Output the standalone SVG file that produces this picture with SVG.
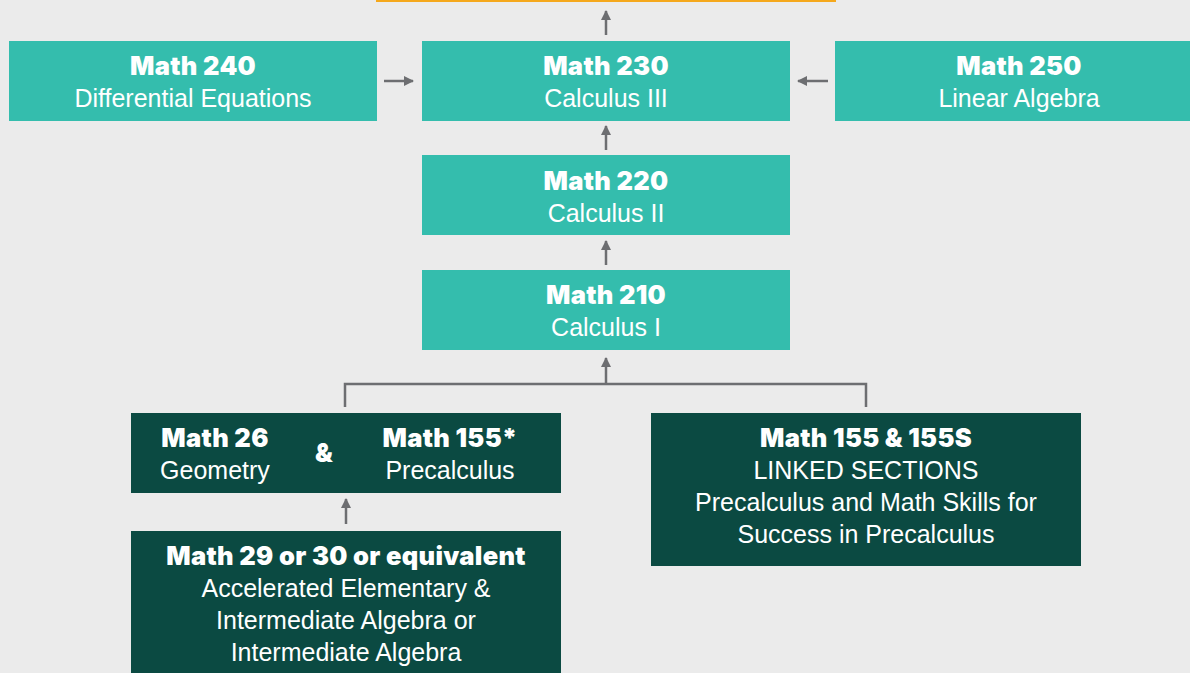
<svg xmlns="http://www.w3.org/2000/svg" width="1190" height="673" viewBox="0 0 1190 673">
<style>
.bg{fill:#EBEBEB}
.teal{fill:#34BDAD}
.dark{fill:#0B4A42}
.t{font-family:"Liberation Sans",Arial,sans-serif;fill:#FFFFFF;text-anchor:middle}
.b{font-size:25.5px;font-weight:900;font-family:Inter,"Liberation Sans",sans-serif;letter-spacing:0.3px}
.r{font-size:25px}
.ln{stroke:#6D6E71;stroke-width:2.5;fill:none}
</style>
<defs>
<marker id="ah" viewBox="0 0 10 10" refX="9" refY="5" markerWidth="4" markerHeight="4" orient="auto" markerUnits="strokeWidth">
<path d="M0,0 L10,5 L0,10 Z" fill="#6D6E71"/>
</marker>
</defs>
<rect class="bg" x="0" y="0" width="1190" height="673"/>
<rect x="376" y="0" width="460" height="2" fill="#F5A81C"/>
<g id="connectors">
<path class="ln" d="M606,35 V11" marker-end="url(#ah)"/>
<path class="ln" d="M384,81 H413" marker-end="url(#ah)"/>
<path class="ln" d="M828,81 H798" marker-end="url(#ah)"/>
<path class="ln" d="M606,150 V126" marker-end="url(#ah)"/>
<path class="ln" d="M606,265 V241" marker-end="url(#ah)"/>
<path class="ln" d="M345,407 V384 H866 V407"/>
<path class="ln" d="M606,384 V358" marker-end="url(#ah)"/>
<path class="ln" d="M346,524 V499" marker-end="url(#ah)"/>
</g>
<g id="math240">
<rect class="teal" x="9" y="41" width="368" height="80"/>
<text class="t b" x="193" y="75">Math 240</text>
<text class="t r" x="193" y="107">Differential Equations</text>
</g>
<g id="math230">
<rect class="teal" x="422" y="41" width="368" height="80"/>
<text class="t b" x="606" y="75">Math 230</text>
<text class="t r" x="606" y="107">Calculus III</text>
</g>
<g id="math250">
<rect class="teal" x="835" y="41" width="368" height="80"/>
<text class="t b" x="1019" y="75">Math 250</text>
<text class="t r" x="1019" y="107">Linear Algebra</text>
</g>
<g id="math220">
<rect class="teal" x="422" y="155" width="368" height="80"/>
<text class="t b" x="606" y="190">Math 220</text>
<text class="t r" x="606" y="222">Calculus II</text>
</g>
<g id="math210">
<rect class="teal" x="422" y="270" width="368" height="80"/>
<text class="t b" x="606" y="304">Math 210</text>
<text class="t r" x="606" y="336">Calculus I</text>
</g>
<g id="math26_155">
<rect class="dark" x="131" y="413" width="430" height="80"/>
<text class="t b" x="215" y="447">Math 26</text>
<text class="t r" x="215" y="479">Geometry</text>
<text class="t b" x="324" y="462">&amp;</text>
<text class="t b" x="450" y="447">Math 155*</text>
<text class="t r" x="450" y="479">Precalculus</text>
</g>
<g id="math155_155s">
<rect class="dark" x="651" y="413" width="430" height="153"/>
<text class="t b" x="866" y="447">Math 155 &amp; 155S</text>
<text class="t r" x="866" y="479">LINKED SECTIONS</text>
<text class="t r" x="866" y="511">Precalculus and Math Skills for</text>
<text class="t r" x="866" y="543">Success in Precalculus</text>
</g>
<g id="math29_30">
<rect class="dark" x="131" y="531" width="430" height="150"/>
<text class="t b" x="346" y="565">Math 29 or 30 or equivalent</text>
<text class="t r" x="346" y="597">Accelerated Elementary &amp;</text>
<text class="t r" x="346" y="629">Intermediate Algebra or</text>
<text class="t r" x="346" y="661">Intermediate Algebra</text>
</g>
</svg>
